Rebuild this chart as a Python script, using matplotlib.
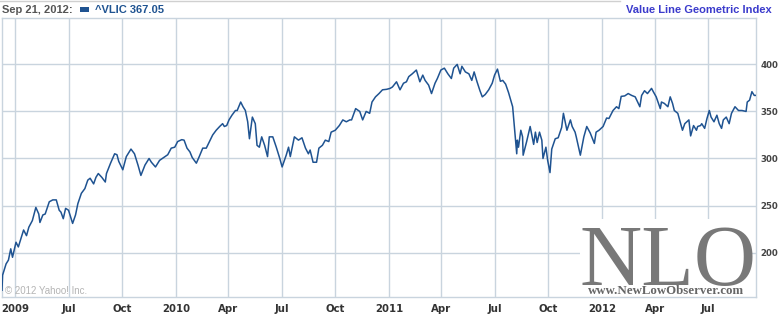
import numpy as np
import pandas as pd
import matplotlib
matplotlib.use("Agg")
import matplotlib.pyplot as plt
import matplotlib.dates as mdates
from matplotlib.patches import Rectangle
from matplotlib.lines import Line2D

# ^VLIC closes (approx.)
dates = [
    "2009-03-09", "2009-03-10", "2009-03-16", "2009-03-20", "2009-03-24", "2009-03-27",
    "2009-04-02", "2009-04-06", "2009-04-13", "2009-04-15", "2009-04-20", "2009-04-24",
    "2009-04-30", "2009-05-06", "2009-05-11", "2009-05-13", "2009-05-18", "2009-05-22",
    "2009-05-29", "2009-06-04", "2009-06-10", "2009-06-15", "2009-06-18", "2009-06-22",
    "2009-06-26", "2009-07-01", "2009-07-08", "2009-07-13", "2009-07-17", "2009-07-23",
    "2009-07-29", "2009-08-03", "2009-08-07", "2009-08-13", "2009-08-17", "2009-08-21",
    "2009-08-27", "2009-09-02", "2009-09-04", "2009-09-11", "2009-09-18", "2009-09-22",
    "2009-09-25", "2009-10-02", "2009-10-08", "2009-10-16", "2009-10-22", "2009-10-28",
    "2009-11-02", "2009-11-09", "2009-11-16", "2009-11-20", "2009-11-27", "2009-12-04",
    "2009-12-11", "2009-12-18", "2009-12-24", "2009-12-30", "2010-01-04", "2010-01-11",
    "2010-01-15", "2010-01-20", "2010-01-25", "2010-01-29", "2010-02-05", "2010-02-10",
    "2010-02-16", "2010-02-22", "2010-02-26", "2010-03-05", "2010-03-11", "2010-03-17",
    "2010-03-22", "2010-03-25", "2010-03-29", "2010-04-02", "2010-04-07", "2010-04-13",
    "2010-04-16", "2010-04-22", "2010-04-26", "2010-04-30", "2010-05-04", "2010-05-07",
    "2010-05-12", "2010-05-17", "2010-05-20", "2010-05-24", "2010-05-28", "2010-06-02",
    "2010-06-07", "2010-06-10", "2010-06-16", "2010-06-22", "2010-06-28", "2010-07-02",
    "2010-07-09", "2010-07-13", "2010-07-16", "2010-07-23", "2010-07-30", "2010-08-05",
    "2010-08-11", "2010-08-16", "2010-08-19", "2010-08-24", "2010-08-30", "2010-09-03",
    "2010-09-09", "2010-09-14", "2010-09-20", "2010-09-24", "2010-10-01", "2010-10-08",
    "2010-10-14", "2010-10-20", "2010-10-26", "2010-10-29", "2010-11-05", "2010-11-12",
    "2010-11-17", "2010-11-23", "2010-11-29", "2010-12-03", "2010-12-09", "2010-12-15",
    "2010-12-21", "2010-12-28", "2011-01-03", "2011-01-07", "2011-01-14", "2011-01-20",
    "2011-01-26", "2011-01-31", "2011-02-04", "2011-02-10", "2011-02-17", "2011-02-23",
    "2011-02-28", "2011-03-04", "2011-03-10", "2011-03-15", "2011-03-21", "2011-03-25",
    "2011-03-31", "2011-04-06", "2011-04-12", "2011-04-18", "2011-04-22", "2011-04-28",
    "2011-05-03", "2011-05-06", "2011-05-12", "2011-05-18", "2011-05-23", "2011-05-27",
    "2011-06-01", "2011-06-06", "2011-06-10", "2011-06-15", "2011-06-21", "2011-06-27",
    "2011-07-01", "2011-07-06", "2011-07-11", "2011-07-15", "2011-07-20", "2011-07-25",
    "2011-08-01", "2011-08-04", "2011-08-08", "2011-08-09", "2011-08-11", "2011-08-15",
    "2011-08-18", "2011-08-19", "2011-08-25", "2011-08-31", "2011-09-06", "2011-09-09",
    "2011-09-12", "2011-09-16", "2011-09-20", "2011-09-22", "2011-09-27", "2011-09-30",
    "2011-10-04", "2011-10-07", "2011-10-13", "2011-10-18", "2011-10-24", "2011-10-27",
    "2011-11-02", "2011-11-08", "2011-11-11", "2011-11-16", "2011-11-18", "2011-11-25",
    "2011-12-01", "2011-12-06", "2011-12-12", "2011-12-19", "2011-12-22", "2011-12-27",
    "2012-01-03", "2012-01-09", "2012-01-13", "2012-01-20", "2012-01-26", "2012-01-30",
    "2012-02-03", "2012-02-09", "2012-02-15", "2012-02-21", "2012-02-27", "2012-03-06",
    "2012-03-09", "2012-03-14", "2012-03-19", "2012-03-26", "2012-03-29", "2012-04-03",
    "2012-04-10", "2012-04-12", "2012-04-17", "2012-04-23", "2012-04-27", "2012-05-01",
    "2012-05-04", "2012-05-10", "2012-05-15", "2012-05-18", "2012-05-22", "2012-05-29",
    "2012-06-01", "2012-06-06", "2012-06-11", "2012-06-13", "2012-06-18", "2012-06-20",
    "2012-06-25", "2012-06-29", "2012-07-03", "2012-07-06", "2012-07-11", "2012-07-16",
    "2012-07-20", "2012-07-24", "2012-07-27", "2012-08-01", "2012-08-06", "2012-08-10",
    "2012-08-16", "2012-08-22", "2012-08-28", "2012-09-04", "2012-09-06", "2012-09-10",
    "2012-09-14", "2012-09-18", "2012-09-21",
]
closes = [
    160, 176, 188, 192, 204, 195,
    211, 206, 220, 224, 218, 227,
    234, 248, 241, 232, 240, 241,
    254, 256, 256, 245, 243, 236,
    247, 245, 231, 240, 252, 263,
    268, 277, 279, 273, 280, 284,
    280, 275, 284, 295, 305, 304,
    297, 288, 302, 310, 305, 293,
    282, 293, 300, 296, 291, 298,
    301, 304, 311, 312, 318, 320,
    319.5, 311, 307, 301, 295, 302,
    311, 311, 316, 325, 330, 334,
    337, 334, 335, 341, 346, 351,
    351, 360, 355, 351, 339, 321,
    344, 337, 314, 312, 323, 314,
    302, 323, 323, 312, 300, 291,
    303.5, 312, 302, 323, 319.5, 322,
    311, 305, 309, 296, 296, 311,
    314, 319.5, 318, 328, 330, 335,
    341, 339, 341, 341, 353, 350,
    341, 350, 348, 360, 365.5, 369,
    373, 373.5, 374.5, 376, 381.5, 373,
    380, 381.5, 387, 390, 394, 381.5,
    388.6, 383, 378, 369, 380, 385,
    394, 396, 390, 385, 396, 400,
    390, 398, 392, 390, 383, 392,
    381.5, 372, 365.5, 368, 373, 380,
    388.6, 395, 382, 383, 379, 370,
    355, 334, 305, 319.5, 312, 330,
    323, 303.5, 318, 334, 315, 328,
    317, 328, 319.5, 300, 312, 298,
    285, 310, 321, 322, 333, 348,
    330, 341, 334, 328, 323, 303.5,
    323, 334, 327, 316, 328, 330,
    334, 343, 342.5, 351, 355, 353,
    366, 366.5, 369, 367, 365.5, 355,
    367, 372, 369, 374.5, 371, 365.5,
    353, 360, 358.5, 355, 365.5, 358.5,
    351, 348, 337, 330, 337, 341,
    324, 335, 330, 334, 335, 337,
    332, 342.5, 351, 344, 339, 346,
    337, 332, 341, 344, 337, 348,
    355, 351, 351, 350, 360, 362,
    371, 367, 367.05,
]

tick_dates = ["2009-04-01", "2009-07-01", "2009-10-01", "2010-01-01", "2010-04-01",
              "2010-07-01", "2010-10-01", "2011-01-01", "2011-04-01", "2011-07-01",
              "2011-10-01", "2012-01-01", "2012-04-01", "2012-07-01"]
tick_labels = ["2009", "Jul", "Oct", "2010", "Apr", "Jul", "Oct",
               "2011", "Apr", "Jul", "Oct", "2012", "Apr", "Jul"]
y_ticks = [200, 250, 300, 350, 400]

W, H = 779, 315
fig = plt.figure(figsize=(W / 100, H / 100), dpi=100)
fig.patch.set_facecolor("white")

def fx(px):
    return px / W

def fy(py):
    return 1 - py / H

ax = fig.add_axes([fx(2), fy(297), fx(756) - fx(2), fy(18) - fy(297)])

grid_c = "#c9d4de"
line_c = "#1f5391"

x = pd.to_datetime(dates)
ax.plot(x, closes, color=line_c, lw=1.1, zorder=4)

ax.set_xlim(x[0], x[-1])
ax.set_ylim(152.8, 449.3)

ax.set_xticks(pd.to_datetime(tick_dates))
ax.set_xticklabels(tick_labels)
ax.set_yticks(y_ticks)
ax.yaxis.tick_right()

ax.grid(True, color=grid_c, lw=1.0, zorder=0)
ax.set_axisbelow(True)
for s in ax.spines.values():
    s.set_color(grid_c)
    s.set_linewidth(1.0)

ax.tick_params(axis="both", length=0)
ax.tick_params(axis="x", pad=5, labelsize=7.3, labelcolor="#333333")
ax.tick_params(axis="y", pad=3, labelsize=6.2, labelcolor="#444444")
for lab in ax.get_xticklabels() + ax.get_yticklabels():
    lab.set_fontweight("bold")

# white block behind the NLO watermark
ax.add_patch(Rectangle((fx(580), fy(297)), fx(750) - fx(580), fy(219) - fy(297),
                       transform=fig.transFigure, facecolor="white",
                       edgecolor="none", zorder=2))

fig.text(fx(668), fy(285), "NLO", family="Liberation Serif", fontsize=62,
         color="#787878", ha="center", va="baseline", zorder=5)
fig.text(fx(666), fy(293.5), "www.NewLowObserver.com", family="Liberation Serif",
         fontsize=9.3, fontweight="bold", color="#666666", ha="center",
         va="baseline", zorder=5)

fig.text(fx(5), fy(294), "\u00a9 2012 Yahoo! Inc.", family="Liberation Sans",
         fontsize=7, color="#b4b4b4", ha="left", va="baseline")

# header
fig.text(fx(2.5), fy(13), "Sep 21, 2012:", family="Liberation Sans", fontsize=8,
         fontweight="bold", color="#555555", ha="left", va="baseline")
fig.add_artist(Rectangle((fx(80), fy(11.7)), fx(9), fy(7.3) - fy(11.7),
                         transform=fig.transFigure, facecolor=line_c,
                         edgecolor="none"))
fig.text(fx(95), fy(13), "^VLIC 367.05", family="Liberation Sans", fontsize=8,
         fontweight="bold", color="#1f5391", ha="left", va="baseline")
fig.text(fx(772), fy(13), "Value Line Geometric Index", family="Liberation Sans",
         fontsize=8, fontweight="bold", color="#3b3bcc", ha="right", va="baseline")

fig.add_artist(Line2D([0, fx(620)], [fy(0.5), fy(0.5)], color="#d0d0d0", lw=1))

fig.savefig("out.png", dpi=100)
